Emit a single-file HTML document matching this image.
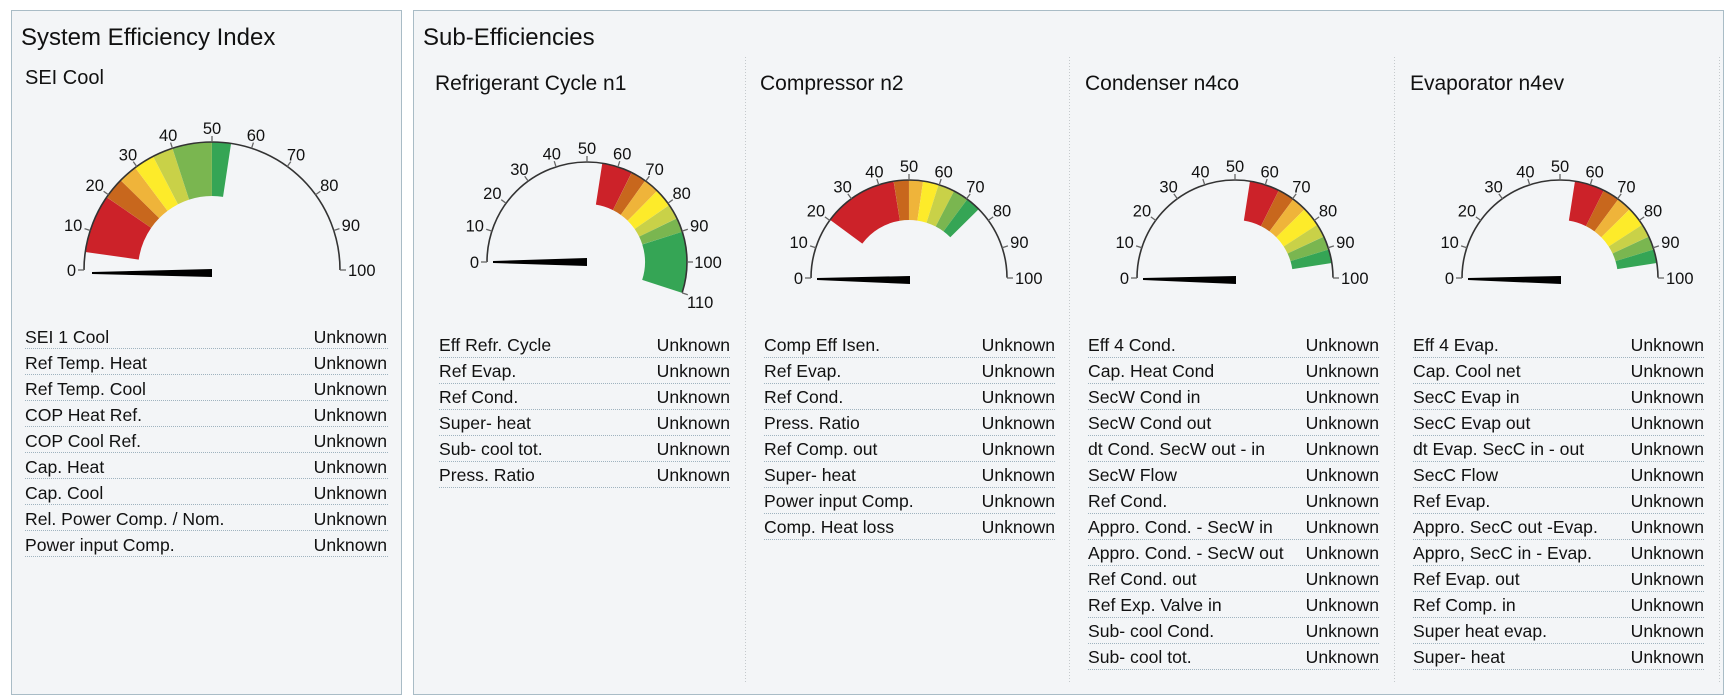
<!DOCTYPE html>
<html><head><meta charset="utf-8"><style>
html,body{margin:0;padding:0;background:#fff;}
svg{display:block;font-family:"Liberation Sans",sans-serif;}
.t{font-size:17.6px;fill:#111;}
.h{font-size:21px;fill:#111;}
.tk{font-size:16.5px;fill:#111;text-anchor:middle;}
.dl{stroke:#9fb3bf;stroke-width:1;stroke-dasharray:1 1;}
</style></head><body>
<svg width="1726" height="700" viewBox="0 0 1726 700" xmlns="http://www.w3.org/2000/svg">
<rect x="11.5" y="10.5" width="390" height="684" fill="#f3f5f7" stroke="#a9bcc6"/>
<rect x="413.5" y="10.5" width="1310" height="684" fill="#f3f5f7" stroke="#a9bcc6"/>
<text x="21" y="45" style="font-size:24px" fill="#111">System Efficiency Index</text>
<text x="423" y="45" style="font-size:24px" fill="#111">Sub-Efficiencies</text>
<text x="25" y="84" style="font-size:20px" fill="#111">SEI Cool</text>
<text x="435" y="90" class="h">Refrigerant Cycle n1</text>
<text x="760" y="90" class="h">Compressor n2</text>
<text x="1085" y="90" class="h">Condenser n4co</text>
<text x="1410" y="90" class="h">Evaporator n4ev</text>
<g stroke="#c4c9cc" stroke-dasharray="1 2">
<line x1="745.5" y1="57" x2="745.5" y2="683"/><line x1="1069.5" y1="57" x2="1069.5" y2="683"/><line x1="1394.5" y1="57" x2="1394.5" y2="683"/><line x1="1719.5" y1="57" x2="1719.5" y2="683"/>
</g>

<!-- Gauge 1 -->
<g transform="translate(212,270)">
<g fill="none" stroke-width="54">
<circle r="101" stroke="#cc2229" pathLength="360" stroke-dasharray="26.6 400" transform="rotate(188.1)"/>
<circle r="101" stroke="#c8671d" pathLength="360" stroke-dasharray="9.8 400" transform="rotate(214.7)"/>
<circle r="101" stroke="#efb43a" pathLength="360" stroke-dasharray="8.6 400" transform="rotate(224.5)"/>
<circle r="101" stroke="#fdeb2a" pathLength="360" stroke-dasharray="9.5 400" transform="rotate(233.1)"/>
<circle r="101" stroke="#c9d148" pathLength="360" stroke-dasharray="9.4 400" transform="rotate(242.6)"/>
<circle r="101" stroke="#7ab650" pathLength="360" stroke-dasharray="18 400" transform="rotate(252)"/>
<circle r="101" stroke="#35a555" pathLength="360" stroke-dasharray="8.6 400" transform="rotate(270)"/>
</g>
<circle r="128" fill="none" stroke="#333" stroke-width="1.6" pathLength="360" stroke-dasharray="180 400" transform="rotate(180)"/>
<g stroke="#666" stroke-width="1.3">
<line x1="128" x2="134" transform="rotate(180)"/><line x1="128" x2="134" transform="rotate(198)"/><line x1="128" x2="134" transform="rotate(216)"/><line x1="128" x2="134" transform="rotate(234)"/><line x1="128" x2="134" transform="rotate(252)"/><line x1="128" x2="134" transform="rotate(270)"/><line x1="128" x2="134" transform="rotate(288)"/><line x1="128" x2="134" transform="rotate(306)"/><line x1="128" x2="134" transform="rotate(324)"/><line x1="128" x2="134" transform="rotate(342)"/><line x1="128" x2="134" transform="rotate(360)"/>
</g>
<polygon points="-120,2 -120,4 0,7 0,-1" fill="#000"/>
<g class="tk">
<text x="-136" y="6" text-anchor="end">0</text>
<g transform="rotate(198) translate(146,0) rotate(-198)"><text y="6">10</text></g>
<g transform="rotate(216) translate(145,0) rotate(-216)"><text y="6">20</text></g>
<g transform="rotate(234) translate(143,0) rotate(-234)"><text y="6">30</text></g>
<g transform="rotate(252) translate(142,0) rotate(-252)"><text y="6">40</text></g>
<g transform="rotate(270) translate(142,0) rotate(-270)"><text y="6">50</text></g>
<g transform="rotate(288) translate(142,0) rotate(-288)"><text y="6">60</text></g>
<g transform="rotate(306) translate(143,0) rotate(-306)"><text y="6">70</text></g>
<g transform="rotate(324) translate(145,0) rotate(-324)"><text y="6">80</text></g>
<g transform="rotate(342) translate(146,0) rotate(-342)"><text y="6">90</text></g>
<text x="136" y="6" text-anchor="start">100</text>
</g>
</g>

<!-- Gauge 2 -->
<g transform="translate(587,262)">
<g fill="none" stroke-width="42">
<circle r="79" stroke="#cc2229" pathLength="360" stroke-dasharray="17.8 400" transform="rotate(278.8)"/>
<circle r="79" stroke="#c8671d" pathLength="360" stroke-dasharray="9 400" transform="rotate(296.6)"/>
<circle r="79" stroke="#efb43a" pathLength="360" stroke-dasharray="9 400" transform="rotate(305.6)"/>
<circle r="79" stroke="#fdeb2a" pathLength="360" stroke-dasharray="10.7 400" transform="rotate(314.6)"/>
<circle r="79" stroke="#c9d148" pathLength="360" stroke-dasharray="8.8 400" transform="rotate(325.3)"/>
<circle r="79" stroke="#7ab650" pathLength="360" stroke-dasharray="8.3 400" transform="rotate(334.1)"/>
<circle r="79" stroke="#35a555" pathLength="360" stroke-dasharray="35.6 400" transform="rotate(342.4)"/>
</g>
<circle r="100" fill="none" stroke="#333" stroke-width="1.6" pathLength="360" stroke-dasharray="198 400" transform="rotate(180)"/>
<g stroke="#666" stroke-width="1.3">
<line x1="100" x2="106" transform="rotate(180)"/><line x1="100" x2="106" transform="rotate(198)"/><line x1="100" x2="106" transform="rotate(216)"/><line x1="100" x2="106" transform="rotate(234)"/><line x1="100" x2="106" transform="rotate(252)"/><line x1="100" x2="106" transform="rotate(270)"/><line x1="100" x2="106" transform="rotate(288)"/><line x1="100" x2="106" transform="rotate(306)"/><line x1="100" x2="106" transform="rotate(324)"/><line x1="100" x2="106" transform="rotate(342)"/><line x1="100" x2="106" transform="rotate(360)"/><line x1="100" x2="106" transform="rotate(378)"/>
</g>
<polygon points="-94,-1 -94,1 0,4 0,-4" fill="#000"/>
<g class="tk">
<text x="-108" y="6" text-anchor="end">0</text>
<g transform="rotate(198) translate(118,0) rotate(-198)"><text y="6">10</text></g>
<g transform="rotate(216) translate(117,0) rotate(-216)"><text y="6">20</text></g>
<g transform="rotate(234) translate(115,0) rotate(-234)"><text y="6">30</text></g>
<g transform="rotate(252) translate(114,0) rotate(-252)"><text y="6">40</text></g>
<g transform="rotate(270) translate(114,0) rotate(-270)"><text y="6">50</text></g>
<g transform="rotate(288) translate(114,0) rotate(-288)"><text y="6">60</text></g>
<g transform="rotate(306) translate(115,0) rotate(-306)"><text y="6">70</text></g>
<g transform="rotate(324) translate(117,0) rotate(-324)"><text y="6">80</text></g>
<g transform="rotate(342) translate(118,0) rotate(-342)"><text y="6">90</text></g>
<g transform="rotate(360) translate(121,0) rotate(-360)"><text y="6">100</text></g>
<g transform="rotate(378) translate(119,0) rotate(-378)"><text y="9">110</text></g>
</g>
</g>

<!-- Gauge 3 -->
<g transform="translate(909,278)">
<g fill="none" stroke-width="40">
<circle r="78" stroke="#cc2229" pathLength="360" stroke-dasharray="44.6 400" transform="rotate(216.4)"/>
<circle r="78" stroke="#c8671d" pathLength="360" stroke-dasharray="9 400" transform="rotate(261)"/>
<circle r="78" stroke="#efb43a" pathLength="360" stroke-dasharray="8.3 400" transform="rotate(270)"/>
<circle r="78" stroke="#fdeb2a" pathLength="360" stroke-dasharray="9.3 400" transform="rotate(278.3)"/>
<circle r="78" stroke="#c9d148" pathLength="360" stroke-dasharray="9.8 400" transform="rotate(287.6)"/>
<circle r="78" stroke="#7ab650" pathLength="360" stroke-dasharray="9.1 400" transform="rotate(297.4)"/>
<circle r="78" stroke="#35a555" pathLength="360" stroke-dasharray="8.9 400" transform="rotate(306.5)"/>
</g>
<circle r="98" fill="none" stroke="#333" stroke-width="1.6" pathLength="360" stroke-dasharray="180 400" transform="rotate(180)"/>
<g stroke="#666" stroke-width="1.3">
<line x1="98" x2="104" transform="rotate(180)"/><line x1="98" x2="104" transform="rotate(198)"/><line x1="98" x2="104" transform="rotate(216)"/><line x1="98" x2="104" transform="rotate(234)"/><line x1="98" x2="104" transform="rotate(252)"/><line x1="98" x2="104" transform="rotate(270)"/><line x1="98" x2="104" transform="rotate(288)"/><line x1="98" x2="104" transform="rotate(306)"/><line x1="98" x2="104" transform="rotate(324)"/><line x1="98" x2="104" transform="rotate(342)"/><line x1="98" x2="104" transform="rotate(360)"/>
</g>
<polygon points="-92,0 -92,2 1,6 1,-2" fill="#000"/>
<g class="tk">
<text x="-106" y="6" text-anchor="end">0</text>
<g transform="rotate(198) translate(116,0) rotate(-198)"><text y="6">10</text></g>
<g transform="rotate(216) translate(115,0) rotate(-216)"><text y="6">20</text></g>
<g transform="rotate(234) translate(113,0) rotate(-234)"><text y="6">30</text></g>
<g transform="rotate(252) translate(112,0) rotate(-252)"><text y="6">40</text></g>
<g transform="rotate(270) translate(112,0) rotate(-270)"><text y="6">50</text></g>
<g transform="rotate(288) translate(112,0) rotate(-288)"><text y="6">60</text></g>
<g transform="rotate(306) translate(113,0) rotate(-306)"><text y="6">70</text></g>
<g transform="rotate(324) translate(115,0) rotate(-324)"><text y="6">80</text></g>
<g transform="rotate(342) translate(116,0) rotate(-342)"><text y="6">90</text></g>
<text x="106" y="6" text-anchor="start">100</text>
</g>
</g>

<!-- Gauge 4 -->
<g transform="translate(1235,278)">
<g fill="none" stroke-width="40">
<circle r="78" stroke="#cc2229" pathLength="360" stroke-dasharray="17.8 400" transform="rotate(278.8)"/>
<circle r="78" stroke="#c8671d" pathLength="360" stroke-dasharray="9.9 400" transform="rotate(296.6)"/>
<circle r="78" stroke="#efb43a" pathLength="360" stroke-dasharray="8.9 400" transform="rotate(306.5)"/>
<circle r="78" stroke="#fdeb2a" pathLength="360" stroke-dasharray="11.7 400" transform="rotate(315.4)"/>
<circle r="78" stroke="#c9d148" pathLength="360" stroke-dasharray="7.9 400" transform="rotate(327.1)"/>
<circle r="78" stroke="#7ab650" pathLength="360" stroke-dasharray="8.1 400" transform="rotate(335)"/>
<circle r="78" stroke="#35a555" pathLength="360" stroke-dasharray="8.1 400" transform="rotate(343.1)"/>
</g>
<circle r="98" fill="none" stroke="#333" stroke-width="1.6" pathLength="360" stroke-dasharray="180 400" transform="rotate(180)"/>
<g stroke="#666" stroke-width="1.3">
<line x1="98" x2="104" transform="rotate(180)"/><line x1="98" x2="104" transform="rotate(198)"/><line x1="98" x2="104" transform="rotate(216)"/><line x1="98" x2="104" transform="rotate(234)"/><line x1="98" x2="104" transform="rotate(252)"/><line x1="98" x2="104" transform="rotate(270)"/><line x1="98" x2="104" transform="rotate(288)"/><line x1="98" x2="104" transform="rotate(306)"/><line x1="98" x2="104" transform="rotate(324)"/><line x1="98" x2="104" transform="rotate(342)"/><line x1="98" x2="104" transform="rotate(360)"/>
</g>
<polygon points="-92,0 -92,2 1,6 1,-2" fill="#000"/>
<g class="tk">
<text x="-106" y="6" text-anchor="end">0</text>
<g transform="rotate(198) translate(116,0) rotate(-198)"><text y="6">10</text></g>
<g transform="rotate(216) translate(115,0) rotate(-216)"><text y="6">20</text></g>
<g transform="rotate(234) translate(113,0) rotate(-234)"><text y="6">30</text></g>
<g transform="rotate(252) translate(112,0) rotate(-252)"><text y="6">40</text></g>
<g transform="rotate(270) translate(112,0) rotate(-270)"><text y="6">50</text></g>
<g transform="rotate(288) translate(112,0) rotate(-288)"><text y="6">60</text></g>
<g transform="rotate(306) translate(113,0) rotate(-306)"><text y="6">70</text></g>
<g transform="rotate(324) translate(115,0) rotate(-324)"><text y="6">80</text></g>
<g transform="rotate(342) translate(116,0) rotate(-342)"><text y="6">90</text></g>
<text x="106" y="6" text-anchor="start">100</text>
</g>
</g>

<!-- Gauge 5 -->
<g transform="translate(1560,278)">
<g fill="none" stroke-width="40">
<circle r="78" stroke="#cc2229" pathLength="360" stroke-dasharray="17.8 400" transform="rotate(278.8)"/>
<circle r="78" stroke="#c8671d" pathLength="360" stroke-dasharray="9.9 400" transform="rotate(296.6)"/>
<circle r="78" stroke="#efb43a" pathLength="360" stroke-dasharray="8.9 400" transform="rotate(306.5)"/>
<circle r="78" stroke="#fdeb2a" pathLength="360" stroke-dasharray="11.7 400" transform="rotate(315.4)"/>
<circle r="78" stroke="#c9d148" pathLength="360" stroke-dasharray="7.9 400" transform="rotate(327.1)"/>
<circle r="78" stroke="#7ab650" pathLength="360" stroke-dasharray="8.1 400" transform="rotate(335)"/>
<circle r="78" stroke="#35a555" pathLength="360" stroke-dasharray="8.1 400" transform="rotate(343.1)"/>
</g>
<circle r="98" fill="none" stroke="#333" stroke-width="1.6" pathLength="360" stroke-dasharray="180 400" transform="rotate(180)"/>
<g stroke="#666" stroke-width="1.3">
<line x1="98" x2="104" transform="rotate(180)"/><line x1="98" x2="104" transform="rotate(198)"/><line x1="98" x2="104" transform="rotate(216)"/><line x1="98" x2="104" transform="rotate(234)"/><line x1="98" x2="104" transform="rotate(252)"/><line x1="98" x2="104" transform="rotate(270)"/><line x1="98" x2="104" transform="rotate(288)"/><line x1="98" x2="104" transform="rotate(306)"/><line x1="98" x2="104" transform="rotate(324)"/><line x1="98" x2="104" transform="rotate(342)"/><line x1="98" x2="104" transform="rotate(360)"/>
</g>
<polygon points="-92,0 -92,2 1,6 1,-2" fill="#000"/>
<g class="tk">
<text x="-106" y="6" text-anchor="end">0</text>
<g transform="rotate(198) translate(116,0) rotate(-198)"><text y="6">10</text></g>
<g transform="rotate(216) translate(115,0) rotate(-216)"><text y="6">20</text></g>
<g transform="rotate(234) translate(113,0) rotate(-234)"><text y="6">30</text></g>
<g transform="rotate(252) translate(112,0) rotate(-252)"><text y="6">40</text></g>
<g transform="rotate(270) translate(112,0) rotate(-270)"><text y="6">50</text></g>
<g transform="rotate(288) translate(112,0) rotate(-288)"><text y="6">60</text></g>
<g transform="rotate(306) translate(113,0) rotate(-306)"><text y="6">70</text></g>
<g transform="rotate(324) translate(115,0) rotate(-324)"><text y="6">80</text></g>
<g transform="rotate(342) translate(116,0) rotate(-342)"><text y="6">90</text></g>
<text x="106" y="6" text-anchor="start">100</text>
</g>
</g>

<!-- Left list -->
<g class="t">
<text x="25" y="343">SEI 1 Cool</text><text x="387" y="343" text-anchor="end">Unknown</text>
<text x="25" y="369">Ref Temp. Heat</text><text x="387" y="369" text-anchor="end">Unknown</text>
<text x="25" y="395">Ref Temp. Cool</text><text x="387" y="395" text-anchor="end">Unknown</text>
<text x="25" y="421">COP Heat Ref.</text><text x="387" y="421" text-anchor="end">Unknown</text>
<text x="25" y="447">COP Cool Ref.</text><text x="387" y="447" text-anchor="end">Unknown</text>
<text x="25" y="473">Cap. Heat</text><text x="387" y="473" text-anchor="end">Unknown</text>
<text x="25" y="499">Cap. Cool</text><text x="387" y="499" text-anchor="end">Unknown</text>
<text x="25" y="525">Rel. Power Comp. / Nom.</text><text x="387" y="525" text-anchor="end">Unknown</text>
<text x="25" y="551">Power input Comp.</text><text x="387" y="551" text-anchor="end">Unknown</text>
</g>
<g class="dl">
<line x1="25" x2="388" y1="348.5" y2="348.5"/><line x1="25" x2="388" y1="374.5" y2="374.5"/><line x1="25" x2="388" y1="400.5" y2="400.5"/><line x1="25" x2="388" y1="426.5" y2="426.5"/><line x1="25" x2="388" y1="452.5" y2="452.5"/><line x1="25" x2="388" y1="478.5" y2="478.5"/><line x1="25" x2="388" y1="504.5" y2="504.5"/><line x1="25" x2="388" y1="530.5" y2="530.5"/><line x1="25" x2="388" y1="556.5" y2="556.5"/>
</g>

<!-- Column 1 -->
<g class="t">
<text x="439" y="351">Eff Refr. Cycle</text><text x="730" y="351" text-anchor="end">Unknown</text>
<text x="439" y="377">Ref Evap.</text><text x="730" y="377" text-anchor="end">Unknown</text>
<text x="439" y="403">Ref Cond.</text><text x="730" y="403" text-anchor="end">Unknown</text>
<text x="439" y="429">Super- heat</text><text x="730" y="429" text-anchor="end">Unknown</text>
<text x="439" y="455">Sub- cool tot.</text><text x="730" y="455" text-anchor="end">Unknown</text>
<text x="439" y="481">Press. Ratio</text><text x="730" y="481" text-anchor="end">Unknown</text>
</g>
<g class="dl">
<line x1="439" x2="731" y1="357.5" y2="357.5"/><line x1="439" x2="731" y1="383.5" y2="383.5"/><line x1="439" x2="731" y1="409.5" y2="409.5"/><line x1="439" x2="731" y1="435.5" y2="435.5"/><line x1="439" x2="731" y1="461.5" y2="461.5"/><line x1="439" x2="731" y1="487.5" y2="487.5"/>
</g>

<!-- Column 2 -->
<g class="t">
<text x="764" y="351">Comp Eff Isen.</text><text x="1055" y="351" text-anchor="end">Unknown</text>
<text x="764" y="377">Ref Evap.</text><text x="1055" y="377" text-anchor="end">Unknown</text>
<text x="764" y="403">Ref Cond.</text><text x="1055" y="403" text-anchor="end">Unknown</text>
<text x="764" y="429">Press. Ratio</text><text x="1055" y="429" text-anchor="end">Unknown</text>
<text x="764" y="455">Ref Comp. out</text><text x="1055" y="455" text-anchor="end">Unknown</text>
<text x="764" y="481">Super- heat</text><text x="1055" y="481" text-anchor="end">Unknown</text>
<text x="764" y="507">Power input Comp.</text><text x="1055" y="507" text-anchor="end">Unknown</text>
<text x="764" y="533">Comp. Heat loss</text><text x="1055" y="533" text-anchor="end">Unknown</text>
</g>
<g class="dl">
<line x1="764" x2="1056" y1="357.5" y2="357.5"/><line x1="764" x2="1056" y1="383.5" y2="383.5"/><line x1="764" x2="1056" y1="409.5" y2="409.5"/><line x1="764" x2="1056" y1="435.5" y2="435.5"/><line x1="764" x2="1056" y1="461.5" y2="461.5"/><line x1="764" x2="1056" y1="487.5" y2="487.5"/><line x1="764" x2="1056" y1="513.5" y2="513.5"/><line x1="764" x2="1056" y1="539.5" y2="539.5"/>
</g>

<!-- Column 3 -->
<g class="t">
<text x="1088" y="351">Eff 4 Cond.</text><text x="1379" y="351" text-anchor="end">Unknown</text>
<text x="1088" y="377">Cap. Heat Cond</text><text x="1379" y="377" text-anchor="end">Unknown</text>
<text x="1088" y="403">SecW Cond in</text><text x="1379" y="403" text-anchor="end">Unknown</text>
<text x="1088" y="429">SecW Cond out</text><text x="1379" y="429" text-anchor="end">Unknown</text>
<text x="1088" y="455">dt Cond. SecW out - in</text><text x="1379" y="455" text-anchor="end">Unknown</text>
<text x="1088" y="481">SecW Flow</text><text x="1379" y="481" text-anchor="end">Unknown</text>
<text x="1088" y="507">Ref Cond.</text><text x="1379" y="507" text-anchor="end">Unknown</text>
<text x="1088" y="533">Appro. Cond. - SecW in</text><text x="1379" y="533" text-anchor="end">Unknown</text>
<text x="1088" y="559">Appro. Cond. - SecW out</text><text x="1379" y="559" text-anchor="end">Unknown</text>
<text x="1088" y="585">Ref Cond. out</text><text x="1379" y="585" text-anchor="end">Unknown</text>
<text x="1088" y="611">Ref Exp. Valve in</text><text x="1379" y="611" text-anchor="end">Unknown</text>
<text x="1088" y="637">Sub- cool Cond.</text><text x="1379" y="637" text-anchor="end">Unknown</text>
<text x="1088" y="663">Sub- cool tot.</text><text x="1379" y="663" text-anchor="end">Unknown</text>
</g>
<g class="dl">
<line x1="1088" x2="1380" y1="357.5" y2="357.5"/><line x1="1088" x2="1380" y1="383.5" y2="383.5"/><line x1="1088" x2="1380" y1="409.5" y2="409.5"/><line x1="1088" x2="1380" y1="435.5" y2="435.5"/><line x1="1088" x2="1380" y1="461.5" y2="461.5"/><line x1="1088" x2="1380" y1="487.5" y2="487.5"/><line x1="1088" x2="1380" y1="513.5" y2="513.5"/><line x1="1088" x2="1380" y1="539.5" y2="539.5"/><line x1="1088" x2="1380" y1="565.5" y2="565.5"/><line x1="1088" x2="1380" y1="591.5" y2="591.5"/><line x1="1088" x2="1380" y1="617.5" y2="617.5"/><line x1="1088" x2="1380" y1="643.5" y2="643.5"/><line x1="1088" x2="1380" y1="669.5" y2="669.5"/>
</g>

<!-- Column 4 -->
<g class="t">
<text x="1413" y="351">Eff 4 Evap.</text><text x="1704" y="351" text-anchor="end">Unknown</text>
<text x="1413" y="377">Cap. Cool net</text><text x="1704" y="377" text-anchor="end">Unknown</text>
<text x="1413" y="403">SecC Evap in</text><text x="1704" y="403" text-anchor="end">Unknown</text>
<text x="1413" y="429">SecC Evap out</text><text x="1704" y="429" text-anchor="end">Unknown</text>
<text x="1413" y="455">dt Evap. SecC in - out</text><text x="1704" y="455" text-anchor="end">Unknown</text>
<text x="1413" y="481">SecC Flow</text><text x="1704" y="481" text-anchor="end">Unknown</text>
<text x="1413" y="507">Ref Evap.</text><text x="1704" y="507" text-anchor="end">Unknown</text>
<text x="1413" y="533">Appro. SecC out -Evap.</text><text x="1704" y="533" text-anchor="end">Unknown</text>
<text x="1413" y="559">Appro, SecC in - Evap.</text><text x="1704" y="559" text-anchor="end">Unknown</text>
<text x="1413" y="585">Ref Evap. out</text><text x="1704" y="585" text-anchor="end">Unknown</text>
<text x="1413" y="611">Ref Comp. in</text><text x="1704" y="611" text-anchor="end">Unknown</text>
<text x="1413" y="637">Super heat evap.</text><text x="1704" y="637" text-anchor="end">Unknown</text>
<text x="1413" y="663">Super- heat</text><text x="1704" y="663" text-anchor="end">Unknown</text>
</g>
<g class="dl">
<line x1="1413" x2="1705" y1="357.5" y2="357.5"/><line x1="1413" x2="1705" y1="383.5" y2="383.5"/><line x1="1413" x2="1705" y1="409.5" y2="409.5"/><line x1="1413" x2="1705" y1="435.5" y2="435.5"/><line x1="1413" x2="1705" y1="461.5" y2="461.5"/><line x1="1413" x2="1705" y1="487.5" y2="487.5"/><line x1="1413" x2="1705" y1="513.5" y2="513.5"/><line x1="1413" x2="1705" y1="539.5" y2="539.5"/><line x1="1413" x2="1705" y1="565.5" y2="565.5"/><line x1="1413" x2="1705" y1="591.5" y2="591.5"/><line x1="1413" x2="1705" y1="617.5" y2="617.5"/><line x1="1413" x2="1705" y1="643.5" y2="643.5"/><line x1="1413" x2="1705" y1="669.5" y2="669.5"/>
</g>
</svg>
</body></html>
